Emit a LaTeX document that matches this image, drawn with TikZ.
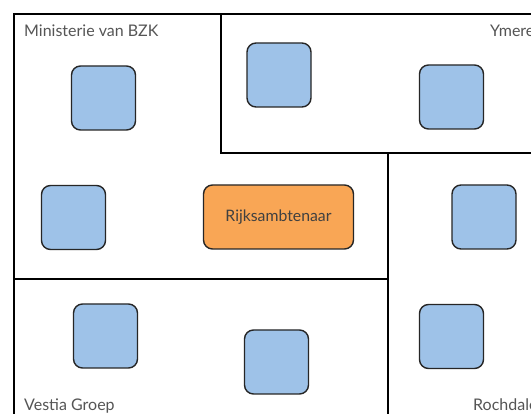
\documentclass[tikz,border=0pt]{standalone}
\usepackage{fontspec}
\setmainfont{Lato}
\definecolor{boxblue}{HTML}{9EC2E8}
\definecolor{boxorange}{HTML}{F9A655}
\definecolor{labelgray}{HTML}{555555}
\begin{document}
\begin{tikzpicture}[x=1pt,y=-1pt,
  region/.style={draw=black,line width=1.3pt},
  item/.style={draw=black!85,line width=1.4pt,rounded corners=9pt,fill=boxblue,minimum width=64pt,minimum height=64pt,inner sep=0pt},
  actor/.style={draw=black!85,line width=1.4pt,rounded corners=9pt,fill=boxorange,minimum width=150pt,minimum height=64pt,inner sep=0pt,font=\fontsize{15.8}{18}\selectfont,text=black!75},
  lbl/.style={anchor=base west,inner sep=0pt,font=\fontsize{16}{18}\selectfont,text=labelgray}]
\useasboundingbox (0,0) rectangle (531,414);
\clip (0,0) rectangle (531,414);
\fill[white] (0,0) rectangle (531,414);
% regions
\draw[region] (14,430) -- (14,14) -- (540,14);
\draw[region] (221,14) -- (221,153) -- (540,153);
\draw[region] (388,153) -- (388,430);
\draw[region] (14,279) -- (388,279);
% labels
\node[lbl] (bzk) at (24,37) {Ministerie van BZK};
\node[lbl] (ymen) at (490,37) {Ymere};
\node[lbl] (vestia) at (24,411) {Vestia Groep};
\node[lbl] (rochdale) at (473,411) {Rochdale};
% items
\node[item] (m1) at (103.5,98) {};
\node[item] (m2) at (73.5,217.5) {};
\node[actor] (ra) at (278.5,217) {Rijksambtenaar};
\node[item] (y1) at (279,75) {};
\node[item] (y2) at (451.5,97) {};
\node[item] (r1) at (484,217) {};
\node[item] (r2) at (451.5,336.5) {};
\node[item] (v1) at (105.5,336) {};
\node[item] (v2) at (276.5,362) {};
\end{tikzpicture}
\end{document}
